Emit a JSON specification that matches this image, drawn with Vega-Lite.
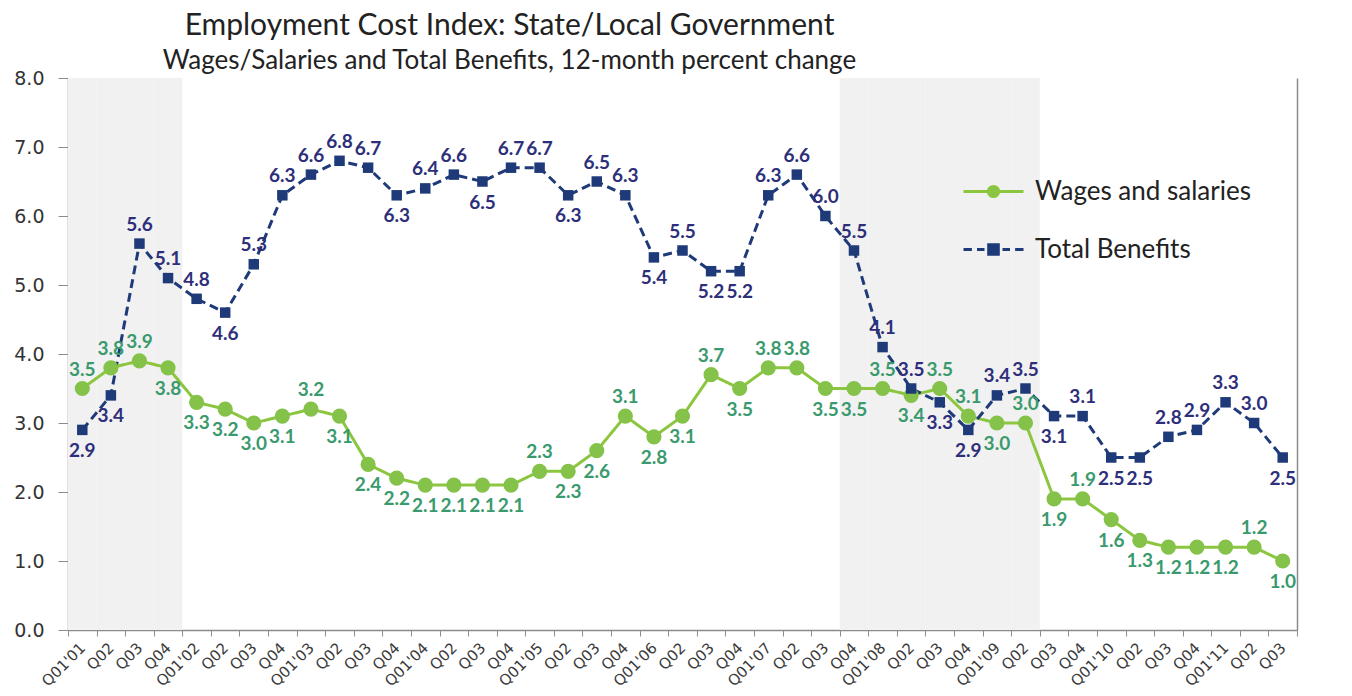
{
  "$schema": "https://vega.github.io/schema/vega-lite/v6.json",
  "width": 1229,
  "height": 552,
  "autosize": {"type": "none"},
  "padding": {"left": 68, "top": 78, "right": 55, "bottom": 66},
  "background": "white",
  "config": {"view": {"stroke": null}},
  "title": {
    "text": "Employment Cost Index: State/Local Government",
    "subtitle": "Wages/Salaries and Total Benefits, 12-month percent change",
    "anchor": "middle",
    "frame": "group",
    "dx": -173,
    "offset": -5,
    "font": "Lato",
    "fontSize": 30,
    "fontWeight": "normal",
    "color": "#222222",
    "subtitleFont": "Lato",
    "subtitleFontSize": 26,
    "subtitleColor": "#222222",
    "subtitlePadding": 7
  },
  "datasets": {
    "ecivals": [
      {"period": "2001 Q1", "wages": 3.5, "benefits": 2.9},
      {"period": "2001 Q2", "wages": 3.8, "benefits": 3.4},
      {"period": "2001 Q3", "wages": 3.9, "benefits": 5.6},
      {"period": "2001 Q4", "wages": 3.8, "benefits": 5.1},
      {"period": "2002 Q1", "wages": 3.3, "benefits": 4.8},
      {"period": "2002 Q2", "wages": 3.2, "benefits": 4.6},
      {"period": "2002 Q3", "wages": 3.0, "benefits": 5.3},
      {"period": "2002 Q4", "wages": 3.1, "benefits": 6.3},
      {"period": "2003 Q1", "wages": 3.2, "benefits": 6.6},
      {"period": "2003 Q2", "wages": 3.1, "benefits": 6.8},
      {"period": "2003 Q3", "wages": 2.4, "benefits": 6.7},
      {"period": "2003 Q4", "wages": 2.2, "benefits": 6.3},
      {"period": "2004 Q1", "wages": 2.1, "benefits": 6.4},
      {"period": "2004 Q2", "wages": 2.1, "benefits": 6.6},
      {"period": "2004 Q3", "wages": 2.1, "benefits": 6.5},
      {"period": "2004 Q4", "wages": 2.1, "benefits": 6.7},
      {"period": "2005 Q1", "wages": 2.3, "benefits": 6.7},
      {"period": "2005 Q2", "wages": 2.3, "benefits": 6.3},
      {"period": "2005 Q3", "wages": 2.6, "benefits": 6.5},
      {"period": "2005 Q4", "wages": 3.1, "benefits": 6.3},
      {"period": "2006 Q1", "wages": 2.8, "benefits": 5.4},
      {"period": "2006 Q2", "wages": 3.1, "benefits": 5.5},
      {"period": "2006 Q3", "wages": 3.7, "benefits": 5.2},
      {"period": "2006 Q4", "wages": 3.5, "benefits": 5.2},
      {"period": "2007 Q1", "wages": 3.8, "benefits": 6.3},
      {"period": "2007 Q2", "wages": 3.8, "benefits": 6.6},
      {"period": "2007 Q3", "wages": 3.5, "benefits": 6.0},
      {"period": "2007 Q4", "wages": 3.5, "benefits": 5.5},
      {"period": "2008 Q1", "wages": 3.5, "benefits": 4.1},
      {"period": "2008 Q2", "wages": 3.4, "benefits": 3.5},
      {"period": "2008 Q3", "wages": 3.5, "benefits": 3.3},
      {"period": "2008 Q4", "wages": 3.1, "benefits": 2.9},
      {"period": "2009 Q1", "wages": 3.0, "benefits": 3.4},
      {"period": "2009 Q2", "wages": 3.0, "benefits": 3.5},
      {"period": "2009 Q3", "wages": 1.9, "benefits": 3.1},
      {"period": "2009 Q4", "wages": 1.9, "benefits": 3.1},
      {"period": "2010 Q1", "wages": 1.6, "benefits": 2.5},
      {"period": "2010 Q2", "wages": 1.3, "benefits": 2.5},
      {"period": "2010 Q3", "wages": 1.2, "benefits": 2.8},
      {"period": "2010 Q4", "wages": 1.2, "benefits": 2.9},
      {"period": "2011 Q1", "wages": 1.2, "benefits": 3.3},
      {"period": "2011 Q2", "wages": 1.2, "benefits": 3.0},
      {"period": "2011 Q3", "wages": 1.0, "benefits": 2.5}
    ],
    "recessions": [
      {"period": "2001 Q1"}, {"period": "2001 Q2"}, {"period": "2001 Q3"}, {"period": "2001 Q4"},
      {"period": "2007 Q4"}, {"period": "2008 Q1"}, {"period": "2008 Q2"}, {"period": "2008 Q3"},
      {"period": "2008 Q4"}, {"period": "2009 Q1"}, {"period": "2009 Q2"}
    ]
  },
  "data": {"name": "ecivals"},
  "transform": [
    {"fold": ["wages", "benefits"], "as": ["key", "value"]},
    {"window": [{"op": "lag", "field": "value", "as": "prev"}, {"op": "lead", "field": "value", "as": "next"}], "groupby": ["key"], "sort": [{"field": "period"}]},
    {"calculate": "datum.prev == null ? datum.value : datum.prev", "as": "pv"},
    {"calculate": "datum.next == null ? datum.value : datum.next", "as": "nv"},
    {"calculate": "datum.key == 'wages' ? (datum.wages > datum.benefits || (datum.value >= datum.pv && datum.value >= datum.nv && (datum.value > datum.pv || datum.value > datum.nv))) : !(datum.benefits < datum.wages || (datum.value <= datum.pv && datum.value <= datum.nv))", "as": "above"}
  ],
  "resolve": {"axis": {"y": "independent"}, "scale": {"color": "independent", "shape": "independent", "fill": "independent", "stroke": "independent", "size": "independent", "strokeDash": "independent"}},
  "encoding": {
    "x": {
      "field": "period",
      "type": "ordinal",
      "scale": {"type": "band", "paddingInner": 0, "paddingOuter": 0},
      "axis": {
        "title": null,
        "labelAngle": -45,
        "labelAlign": "right",
        "labelBaseline": "middle",
        "labelFont": "DejaVu Sans",
        "labelFontSize": 15,
        "labelColor": "#3a3a3a",
        "labelPadding": 9,
        "tickBand": "extent",
        "tickSize": 6,
        "tickColor": "#8c8c8c",
        "domainColor": "#8c8c8c",
        "domainWidth": 1.5,
        "labelExpr": "datum.value == null ? '' : (substring(datum.value, 6, 7) == '1' ? \"Q01'\" + substring(datum.value, 2, 4) : 'Q0' + substring(datum.value, 6, 7))"
      }
    }
  },
  "layer": [
    {
      "data": {"name": "recessions"},
      "transform": [],
      "mark": {"type": "bar", "color": "#f1f1f1"},
      "encoding": {
        "y": {
          "datum": 8,
          "type": "quantitative",
          "scale": {"domain": [0, 8], "nice": false},
          "axis": {
            "title": null,
            "values": [0, 1, 2, 3, 4, 5, 6, 7, 8],
            "format": ".1f",
            "grid": false,
            "labelFont": "DejaVu Sans",
            "labelFontSize": 19,
            "labelColor": "#333333",
            "labelPadding": 14,
            "tickSize": 10,
            "tickColor": "#8c8c8c",
            "domainColor": "#8c8c8c",
            "domainWidth": 1.5
          }
        }
      }
    },
    {
      "mark": {"type": "line", "strokeWidth": 3},
      "encoding": {
        "y": {
          "field": "value",
          "type": "quantitative",
          "axis": {"orient": "right", "title": null, "labels": false, "ticks": false, "grid": false, "domainColor": "#8c8c8c", "domainWidth": 1.5}
        },
        "color": {
          "field": "key",
          "type": "nominal",
          "scale": {"domain": ["wages", "benefits"], "range": ["#8cc63f", "#1f3a78"]},
          "legend": null
        },
        "strokeDash": {
          "field": "key",
          "type": "nominal",
          "scale": {"domain": ["wages", "benefits"], "range": [[1, 0], [9, 5]]},
          "legend": null
        }
      }
    },
    {
      "mark": {"type": "point", "filled": true, "opacity": 1},
      "encoding": {
        "y": {"field": "value", "type": "quantitative", "axis": null},
        "color": {
          "field": "key",
          "type": "nominal",
          "scale": {"domain": ["wages", "benefits"], "range": ["#84c24a", "#1f3a78"]},
          "legend": null
        },
        "shape": {
          "field": "key",
          "type": "nominal",
          "scale": {"domain": ["wages", "benefits"], "range": ["circle", "square"]},
          "legend": null
        },
        "size": {
          "field": "key",
          "type": "nominal",
          "scale": {"domain": ["wages", "benefits"], "range": [230, 110]},
          "legend": null
        }
      }
    },
    {
      "mark": {"type": "point", "filled": true, "strokeWidth": 3, "opacity": 0},
      "encoding": {
        "y": {"field": "value", "type": "quantitative", "axis": null},
        "fill": {
          "field": "key",
          "type": "nominal",
          "scale": {"domain": ["wages", "benefits"], "range": ["#84c24a", "#1f3a78"]},
          "legend": {
            "title": null, "orient": "none", "legendX": 894, "legendY": 82, "padding": 0,
            "symbolSize": 3600, "symbolStrokeWidth": 3, "symbolOpacity": 1,
            "labelFont": "Lato", "labelFontSize": 26, "labelColor": "#222222", "labelOffset": 10, "labelLimit": 400,
            "rowPadding": 13,
            "labelExpr": "datum.value == 'wages' ? 'Wages and salaries' : 'Total Benefits'"
          }
        },
        "stroke": {
          "field": "key",
          "type": "nominal",
          "scale": {"domain": ["wages", "benefits"], "range": ["#8cc63f", "#1f3a78"]},
          "legend": {
            "title": null, "orient": "none", "legendX": 894, "legendY": 82, "padding": 0,
            "symbolSize": 3600, "symbolStrokeWidth": 3, "symbolOpacity": 1,
            "labelFont": "Lato", "labelFontSize": 26, "labelColor": "#222222", "labelOffset": 10, "labelLimit": 400,
            "rowPadding": 13,
            "labelExpr": "datum.value == 'wages' ? 'Wages and salaries' : 'Total Benefits'"
          }
        },
        "shape": {
          "field": "key",
          "type": "nominal",
          "scale": {"domain": ["wages", "benefits"], "range": ["M-1,0H1M-0.17,0A0.17,0.17,0,1,0,0.17,0A0.17,0.17,0,1,0,-0.17,0Z", "M-1,0H-0.72M-0.55,0H-0.3M0.3,0H0.55M0.72,0H1M-0.16,-0.16H0.16V0.16H-0.16Z"]},
          "legend": {
            "title": null, "orient": "none", "legendX": 894, "legendY": 82, "padding": 0,
            "symbolSize": 3600, "symbolStrokeWidth": 3, "symbolOpacity": 1,
            "labelFont": "Lato", "labelFontSize": 26, "labelColor": "#222222", "labelOffset": 10, "labelLimit": 400,
            "rowPadding": 13,
            "labelExpr": "datum.value == 'wages' ? 'Wages and salaries' : 'Total Benefits'"
          }
        }
      }
    },
    {
      "transform": [{"filter": "datum.above"}],
      "mark": {"type": "text", "dy": -19, "font": "Lato", "fontSize": 19, "fontWeight": "bold"},
      "encoding": {
        "y": {"field": "value", "type": "quantitative", "axis": null},
        "text": {"field": "value", "type": "quantitative", "format": ".1f"},
        "color": {"field": "key", "type": "nominal", "scale": {"domain": ["wages", "benefits"], "range": ["#3a9a6e", "#2e2f7a"]}, "legend": null}
      }
    },
    {
      "transform": [{"filter": "!datum.above"}],
      "mark": {"type": "text", "dy": 21, "font": "Lato", "fontSize": 19, "fontWeight": "bold"},
      "encoding": {
        "y": {"field": "value", "type": "quantitative", "axis": null},
        "text": {"field": "value", "type": "quantitative", "format": ".1f"},
        "color": {"field": "key", "type": "nominal", "scale": {"domain": ["wages", "benefits"], "range": ["#3a9a6e", "#2e2f7a"]}, "legend": null}
      }
    }
  ]
}
